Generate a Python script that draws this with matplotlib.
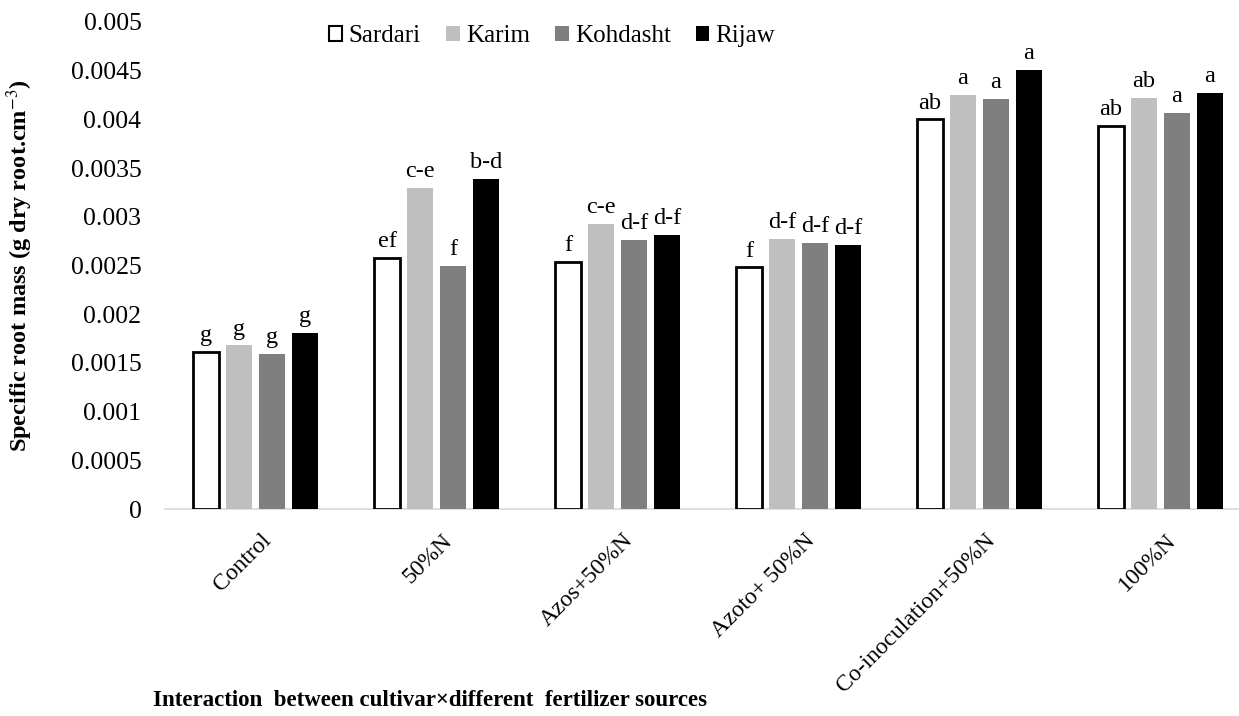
import numpy as np
import matplotlib
matplotlib.use('Agg')
import matplotlib.pyplot as plt
from matplotlib.patches import Patch

plt.rcParams['font.family'] = ['Liberation Serif', 'DejaVu Serif']
plt.rcParams['mathtext.fontset'] = 'stix'

treatment_labels = ['Control', '50%N', 'Azos+50%N', 'Azoto+ 50%N',
                    'Co-inoculation+50%N', '100%N']
cultivars = ['Sardari', 'Karim', 'Kohdasht', 'Rijaw']

sardari = [0.00161, 0.00258, 0.00254, 0.00248, 0.00400, 0.00393]
karim = [0.00168, 0.00330, 0.00293, 0.00277, 0.00425, 0.00422]
kohdasht = [0.00159, 0.00250, 0.00276, 0.00273, 0.00421, 0.00407]
rijaw = [0.00181, 0.00339, 0.00281, 0.00271, 0.00451, 0.00427]

letters_sardari = ['g', 'ef', 'f', 'f', 'ab', 'ab']
letters_karim = ['g', 'c-e', 'c-e', 'd-f', 'a', 'ab']
letters_kohdasht = ['g', 'f', 'd-f', 'd-f', 'a', 'a']
letters_rijaw = ['g', 'b-d', 'd-f', 'd-f', 'a', 'a']

series = [sardari, karim, kohdasht, rijaw]
letters = [letters_sardari, letters_karim, letters_kohdasht, letters_rijaw]
faces = ['white', '#bfbfbf', '#7f7f7f', 'black']
edges = ['black', '#bfbfbf', '#7f7f7f', 'black']
lws = [2.0, 0, 0, 0]

fig = plt.figure(figsize=(12.39, 7.16), dpi=100)
ax = fig.add_axes([165 / 1239, 1 - 509 / 716, 1086 / 1239, 487 / 716])

x = np.arange(len(treatment_labels))
step = 0.182
width = 0.144
for i, (vals, labs) in enumerate(zip(series, letters)):
    pos = x + (i - 1.5) * step
    ax.bar(pos, vals, width=width, color=faces[i], edgecolor=edges[i],
           linewidth=lws[i], label=cultivars[i], zorder=3)
    for px, v, t in zip(pos, vals, labs):
        ax.text(px, v + 0.00006, t, ha='center', va='bottom', fontsize=17.5)

ax.set_xlim(-0.5, len(treatment_labels) - 0.5)
ax.set_ylim(0, 0.005)
ax.set_yticks(np.arange(0, 0.00501, 0.0005))
ax.set_yticklabels(['0', '0.0005', '0.001', '0.0015', '0.002', '0.0025',
                    '0.003', '0.0035', '0.004', '0.0045', '0.005'])
ax.set_xticks(x + 0.03)
ax.set_xticklabels(treatment_labels, rotation=45, ha='right',
                   rotation_mode='anchor', fontsize=17)
ax.tick_params(axis='y', length=0, labelsize=18.5, pad=17)
ax.tick_params(axis='x', length=0, pad=15)
for s in ['top', 'right', 'left']:
    ax.spines[s].set_visible(False)
ax.spines['bottom'].set_color('#d9d9d9')
ax.spines['bottom'].set_linewidth(1.2)

handles = [Patch(facecolor=faces[i], edgecolor='black' if i == 0 else edges[i],
                 linewidth=1.5 if i == 0 else 0) for i in range(4)]
fig.legend(handles, cultivars, loc='center', bbox_to_anchor=(552 / 1239, 1 - 36 / 716),
           ncol=4, frameon=False, fontsize=18, handlelength=0.55,
           handleheight=0.55, handletextpad=0.25, columnspacing=1.0)

fig.text(20 / 1239, 1 - 266 / 716, 'Specific root mass (g dry root.cm$^{-3}$)',
         rotation=90, ha='center', va='center', fontsize=17.5, fontweight='bold')
fig.text(430 / 1239, 1 - 700 / 716,
         'Interaction  between cultivar\u00d7different  fertilizer sources',
         ha='center', va='center', fontsize=16.5, fontweight='bold')

fig.savefig('out.png', dpi=100, facecolor='white')
